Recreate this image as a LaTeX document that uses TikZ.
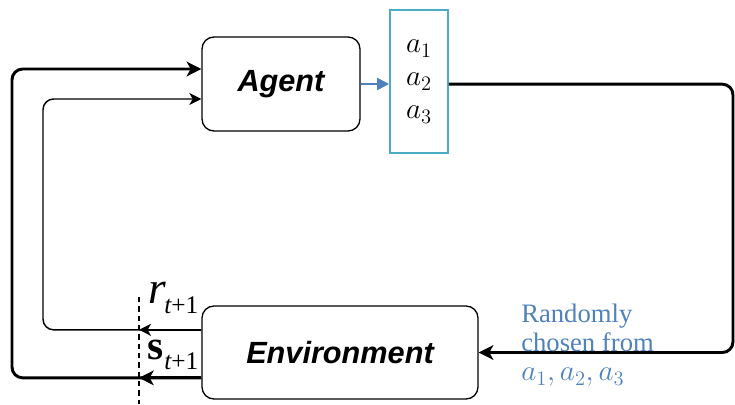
\documentclass[tikz,border=0pt]{standalone}
\usepackage{fix-cm}
\usepackage{fontspec}
\setmainfont{Liberation Serif}
\newfontfamily\agentfont{Liberation Sans}
\usetikzlibrary{arrows.meta}
\definecolor{boxcyan}{HTML}{4BACC6}
\definecolor{actblue}{HTML}{4F81BD}
\tikzset{
  blockbox/.style={draw=black, line width=1pt, rounded corners=9pt, inner sep=0pt,
    font=\agentfont\fontsize{23}{27}\selectfont\bfseries\itshape},
  actbox/.style={draw=boxcyan, line width=1.2pt, inner sep=0pt, align=center,
    font=\fontsize{22}{24.75}\selectfont},
  heavy/.style={line width=2.2pt, rounded corners=8pt},
  light/.style={line width=1.1pt, rounded corners=8pt},
  heavytip/.style={-{Stealth[length=11pt,width=11pt,inset=3pt]}},
  lighttip/.style={-{Stealth[length=9pt,width=9pt,inset=2.5pt]}},
  sublabel/.style={anchor=base west, inner sep=0pt},
}
\begin{document}
\begin{tikzpicture}[x=0.75pt,y=-0.75pt]
\useasboundingbox (0,0) rectangle (735,404);
% boxes
\node[blockbox, minimum width=118.5pt, minimum height=70.5pt] (agent) at (281,84) {Agent};
\node[actbox, minimum width=43.5pt, minimum height=107.25pt] (act) at (419,81.5) {$a_1$\\$a_2$\\$a_3$};
\node[blockbox, minimum width=207pt, minimum height=69.75pt] (env) at (340,352.5) {Environment};
% helper coordinates
\coordinate (rc) at (733,0);
\coordinate (lx) at (12,0);
\coordinate (ilx) at (43,0);
\coordinate (dtop) at (139,297);
\coordinate (dbot) at (139,404);
% agent -> actions
\draw[actblue, line width=1.2pt, -{Triangle[length=9pt,width=9pt]}] (agent.east) -- (agent.east -| act.west);
% actions -> environment
\draw[heavy, heavytip] ([yshift=-2pt]act.east) -| (rc |- env.east) -- (env.east);
% outer loop (state)
\draw[heavy, heavytip] ([yshift=-19pt]env.west) -- ([yshift=-19pt]env.west -| lx) |- ([yshift=11.25pt]agent.west);
\draw[heavy, heavytip] ([yshift=-19pt]env.west) -- ([yshift=-19pt]env.west -| dtop);
% inner loop (reward)
\draw[light, lighttip] ([yshift=17pt]env.west) -- ([yshift=17pt]env.west -| ilx) |- ([yshift=-11.25pt]agent.west);
\draw[light, lighttip] ([yshift=17pt]env.west) -- ([yshift=17pt]env.west -| dtop);
% dashed line
\draw[dashed, line width=0.8pt, dash pattern=on 4pt off 3pt] (dtop) -- (dbot);
% labels
\node[sublabel] (rlab) at (148,303) {\fontsize{34}{34}\selectfont\itshape r};
\node[sublabel] (rsub) at (164,313) {\fontsize{19}{19}\selectfont\itshape t\upshape+1};
\node[sublabel] (slab) at (147,359) {\fontsize{31}{31}\selectfont\bfseries s};
\node[sublabel] (ssub) at (164,369) {\fontsize{19}{19}\selectfont\itshape t\upshape+1};
\node[anchor=north west, align=left, inner sep=0pt, text=actblue,
      font=\fontsize{20}{21.75}\selectfont] (rand) at (521,304)
  {Randomly\\chosen from\\{\fontsize{22}{21.75}\selectfont$a_1, a_2, a_3$}};
\end{tikzpicture}
\end{document}
